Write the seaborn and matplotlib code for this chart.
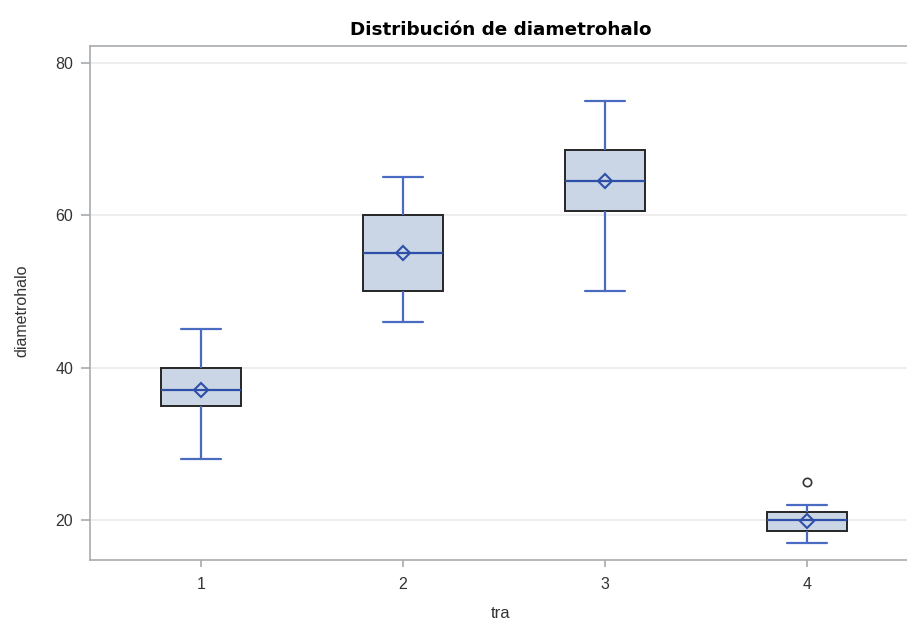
import numpy as np
import pandas as pd
import matplotlib
matplotlib.use("Agg")
import matplotlib.pyplot as plt
import seaborn as sns

# Halo diameter observations for each treatment
tra_levels = ["1", "2", "3", "4"]
diam_t1 = [28, 35, 37, 40, 45]
diam_t2 = [46, 47, 50, 53, 55, 57, 60, 62, 65]
diam_t3 = [50, 60, 60.5, 62, 64.5, 66, 68.5, 74, 75]
diam_t4 = [17, 17, 18.5, 18.5, 20, 20, 21, 22, 25]

y_ticks = [20, 40, 60, 80]

groups = [diam_t1, diam_t2, diam_t3, diam_t4]
df = pd.DataFrame({
    "tra": np.repeat(tra_levels, [len(g) for g in groups]),
    "diametrohalo": np.concatenate(groups),
})

sns.set_theme(style="white")
plt.rcParams["font.family"] = ["Liberation Sans", "DejaVu Sans"]

fig = plt.figure(figsize=(9.07, 6.21), dpi=100)
# plot area runs off the right edge of the canvas
ax = fig.add_axes([90 / 907, 61 / 621, 822 / 907, 514 / 621])

line_blue = "#4a6cc0"
dark_blue = "#2e4fa8"
frame_grey = "#a8abaf"

sns.boxplot(
    data=df, x="tra", y="diametrohalo", order=tra_levels, ax=ax,
    width=0.4, color="#cad5e5", linewidth=1.6, whis=1.5,
    boxprops=dict(facecolor="#cad5e5", edgecolor="#262626", linewidth=1.4),
    whiskerprops=dict(color=line_blue, linewidth=1.6),
    capprops=dict(color=line_blue, linewidth=1.6),
    medianprops=dict(color=dark_blue, linewidth=1.6),
    showmeans=True,
    meanprops=dict(marker="D", markersize=7, markerfacecolor="none",
                   markeredgecolor=dark_blue, markeredgewidth=1.5),
    flierprops=dict(marker="o", markersize=6, markerfacecolor="none",
                    markeredgecolor="#333333", markeredgewidth=1.2),
)

ax.set_xlim(-0.55, 3.52)
ax.set_ylim(14.75, 82.2)
ax.set_yticks(y_ticks)
ax.yaxis.grid(True, color="#ebebeb", linewidth=1.2)
ax.set_axisbelow(True)

for side in ax.spines.values():
    side.set_color(frame_grey)
    side.set_linewidth(1.2)

ax.tick_params(axis="y", direction="out", length=6.5, width=1.2,
               color=frame_grey, labelsize=11.5, labelcolor="#333333",
               left=True, pad=5.5)
ax.tick_params(axis="x", direction="out", length=5, width=1.2,
               color=frame_grey, labelsize=11.5, labelcolor="#333333",
               bottom=True, pad=7)

ax.set_xlabel("tra", fontsize=12, color="#333333", labelpad=10)
ax.set_ylabel("diametrohalo", fontsize=11.5, color="#333333")
ax.yaxis.set_label_coords(-0.074, 0.485)
ax.set_title("Distribución de diametrohalo", fontsize=13.2, fontweight="bold",
             color="#000000", pad=8, family=["DejaVu Sans"])

fig.savefig("out.png", dpi=100)
